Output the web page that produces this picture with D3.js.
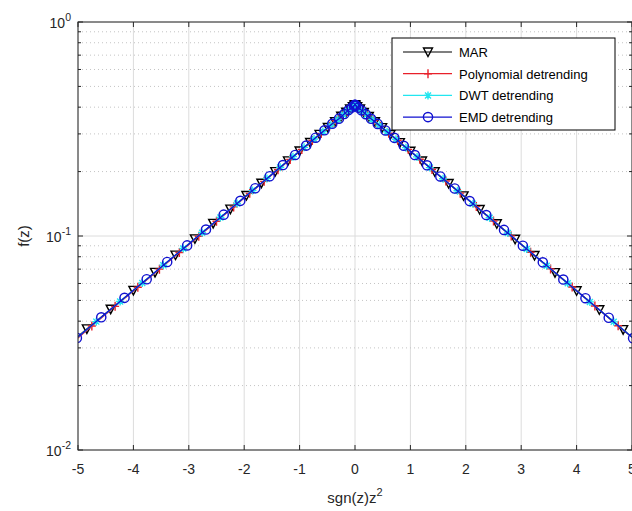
<!DOCTYPE html>
<html><head><meta charset="utf-8">
<script src="https://cdn.jsdelivr.net/npm/d3@7/dist/d3.min.js"></script>
<style>body{margin:0;background:#fff}svg{display:block}</style>
</head><body>
<svg id="c" width="632" height="511"></svg>
<script>
const xTicks = [-5,-4,-3,-2,-1,0,1,2,3,4,5];
const yTickExps = [-2,-1,0];
const seriesNames = ["MAR","Polynomial detrending","DWT detrending","EMD detrending"];
const seriesColors = ["#000000","#e8202a","#22e6f0","#1010d0"];

const marX = [-5.29,-4.84,-4.41,-4.00,-3.61,-3.24,-2.89,-2.56,-2.25,-1.96,-1.69,-1.44,-1.21,-1.00,-0.81,-0.64,-0.49,-0.36,-0.25,-0.16,-0.09,-0.04,-0.01,0,
  0.01,0.04,0.09,0.16,0.25,0.36,0.49,0.64,0.81,1.00,1.21,1.44,1.69,1.96,2.25,2.56,2.89,3.24,3.61,4.00,4.41,4.84,5.29];
const marY = [0.0293,0.0368,0.0455,0.0557,0.0676,0.0814,0.0970,0.1145,0.1335,0.1545,0.1765,0.2000,0.2245,0.2495,0.2735,0.2985,0.3215,0.3425,0.3625,0.3785,0.3925,0.4025,0.4085,0.4110,
  0.4080,0.4020,0.3920,0.3780,0.3620,0.3420,0.3210,0.2980,0.2730,0.2490,0.2240,0.1995,0.1760,0.1540,0.1330,0.1140,0.0966,0.0811,0.0674,0.0555,0.0452,0.0365,0.0291];

const polyX = [-5.20,-4.75,-4.33,-3.92,-3.53,-3.17,-2.82,-2.50,-2.19,-1.90,-1.64,-1.39,-1.17,-0.96,-0.77,-0.61,-0.46,-0.34,-0.23,-0.14,-0.08,-0.03,-0.01,
  0.01,0.03,0.08,0.14,0.23,0.34,0.46,0.61,0.77,0.96,1.17,1.39,1.64,1.90,2.19,2.50,2.82,3.17,3.53,3.92,4.33,4.75,5.20];
const polyY = [0.0302,0.0380,0.0469,0.0576,0.0700,0.0838,0.0998,0.1172,0.1368,0.1582,0.1800,0.2040,0.2280,0.2535,0.2795,0.3015,0.3255,0.3455,0.3645,0.3815,0.3935,0.4035,0.4075,
  0.4080,0.4040,0.3940,0.3820,0.3650,0.3460,0.3260,0.3020,0.2800,0.2540,0.2284,0.2045,0.1806,0.1586,0.1372,0.1175,0.1001,0.0840,0.0702,0.0578,0.0471,0.0381,0.0305];

const dwtX = [-5.11,-4.67,-4.24,-3.84,-3.46,-3.10,-2.76,-2.43,-2.13,-1.85,-1.59,-1.35,-1.12,-0.92,-0.74,-0.58,-0.44,-0.31,-0.21,-0.13,-0.068,-0.026,-0.004,
  0.004,0.026,0.068,0.13,0.21,0.31,0.44,0.58,0.74,0.92,1.12,1.35,1.59,1.85,2.13,2.43,2.76,3.10,3.46,3.84,4.24,4.67,5.11];
const dwtY = [0.0320,0.0398,0.0494,0.0603,0.0730,0.0874,0.1036,0.1220,0.1418,0.1630,0.1858,0.2095,0.2348,0.2595,0.2840,0.3075,0.3295,0.3505,0.3695,0.3845,0.3965,0.4055,0.4095,
  0.4090,0.4050,0.3960,0.3840,0.3690,0.3500,0.3290,0.3068,0.2832,0.2588,0.2342,0.2088,0.1852,0.1626,0.1413,0.1217,0.1032,0.0870,0.0727,0.0601,0.0492,0.0397,0.0319];

const emdX = [-5.02,-4.58,-4.16,-3.76,-3.39,-3.03,-2.69,-2.37,-2.07,-1.80,-1.54,-1.30,-1.08,-0.88,-0.71,-0.55,-0.41,-0.29,-0.194,-0.116,-0.058,-0.02,-0.002,
  0.002,0.02,0.058,0.116,0.194,0.29,0.41,0.55,0.71,0.88,1.08,1.30,1.54,1.80,2.07,2.37,2.69,3.03,3.39,3.76,4.16,4.58,5.02];
const emdY = [0.0334,0.0417,0.0514,0.0628,0.0756,0.0904,0.1072,0.1258,0.1460,0.1672,0.1902,0.2145,0.2392,0.2645,0.2880,0.3118,0.3345,0.3535,0.3715,0.3875,0.3985,0.4065,0.4100,
  0.4100,0.4060,0.3980,0.3870,0.3710,0.3530,0.3340,0.3114,0.2875,0.2640,0.2389,0.2140,0.1898,0.1667,0.1456,0.1253,0.1068,0.0901,0.0753,0.0626,0.0512,0.0415,0.0333];

const seriesX = [marX, polyX, dwtX, emdX];
const seriesY = [marY, polyY, dwtY, emdY];

const svg = d3.select("#c");
const L = 78, T = 22, R = 632, B = 450;
const x = d3.scaleLinear().domain([-5,5]).range([L,R]);
const y = d3.scaleLog().domain([0.01,1]).range([B,T]);
const axisColor = "#262626";
const font = "'Liberation Sans', Arial, sans-serif";

// grid
const g = svg.append("g");
xTicks.forEach(v=>{
  g.append("line").attr("x1",x(v)).attr("x2",x(v)).attr("y1",T).attr("y2",B)
   .attr("stroke","#dcdcdc").attr("stroke-width",1);
});
yTickExps.forEach(e=>{
  const v = Math.pow(10,e);
  g.append("line").attr("x1",L).attr("x2",R).attr("y1",y(v)).attr("y2",y(v))
   .attr("stroke","#dcdcdc").attr("stroke-width",1);
  if (e < 0) for (let m=2;m<=9;m++){
    const mv = m*v;
    g.append("line").attr("x1",L).attr("x2",R).attr("y1",y(mv)).attr("y2",y(mv))
     .attr("stroke","#c4c4c4").attr("stroke-width",1).attr("stroke-dasharray","1,3");
  }
});

// series
const clipId = "clipP";
svg.append("clipPath").attr("id",clipId).append("rect").attr("x",L).attr("y",T).attr("width",R-L).attr("height",B-T);
const plot = svg.append("g").attr("clip-path",`url(#${clipId})`);
const line = d3.line().x(d=>x(d[0])).y(d=>y(d[1]));
const sw = 1.4;

function marker(sel, i, cx, cy, color){
  if (i===0){
    sel.append("path").attr("d",`M${cx-4.5},${cy-4}L${cx+4.5},${cy-4}L${cx},${cy+4.5}Z`)
      .attr("fill","none").attr("stroke",color).attr("stroke-width",sw);
  } else if (i===1){
    sel.append("path").attr("d",`M${cx-4},${cy}L${cx+4},${cy}M${cx},${cy-4.5}L${cx},${cy+4.5}`)
      .attr("stroke",color).attr("stroke-width",sw);
  } else if (i===2){
    sel.append("path").attr("d",`M${cx-4},${cy}L${cx+4},${cy}M${cx},${cy-4}L${cx},${cy+4}M${cx-3},${cy-3}L${cx+3},${cy+3}M${cx-3},${cy+3}L${cx+3},${cy-3}`)
      .attr("stroke",color).attr("stroke-width",sw);
  } else {
    sel.append("circle").attr("cx",cx).attr("cy",cy).attr("r",4.6)
      .attr("fill","none").attr("stroke",color).attr("stroke-width",sw);
  }
}

seriesX.forEach((xs,i)=>{
  const pts = xs.map((v,k)=>[v, seriesY[i][k]]);
  const sg = plot.append("g");
  sg.append("path").attr("d",line(pts)).attr("fill","none").attr("stroke",seriesColors[i]).attr("stroke-width",1.3);
  pts.forEach(p=>marker(sg,i,x(p[0]),y(p[1]),seriesColors[i]));
});

// axes box
svg.append("rect").attr("x",L).attr("y",T).attr("width",R-L).attr("height",B-T)
  .attr("fill","none").attr("stroke",axisColor).attr("stroke-width",1);

// x ticks
xTicks.forEach(v=>{
  svg.append("line").attr("x1",x(v)).attr("x2",x(v)).attr("y1",B).attr("y2",B-5).attr("stroke",axisColor);
  svg.append("line").attr("x1",x(v)).attr("x2",x(v)).attr("y1",T).attr("y2",T+5).attr("stroke",axisColor);
  svg.append("text").attr("x",x(v)).attr("y",B+24).attr("text-anchor","middle")
    .attr("font-family",font).attr("font-size",14).attr("fill",axisColor).text(v);
});
// y ticks
yTickExps.forEach(e=>{
  const v = Math.pow(10,e);
  svg.append("line").attr("x1",L).attr("x2",L+5).attr("y1",y(v)).attr("y2",y(v)).attr("stroke",axisColor);
  svg.append("line").attr("x1",R-5).attr("x2",R).attr("y1",y(v)).attr("y2",y(v)).attr("stroke",axisColor);
  const t = svg.append("text").attr("x",L-7).attr("y",y(v)+6).attr("text-anchor","end")
    .attr("font-family",font).attr("font-size",14).attr("fill",axisColor);
  t.append("tspan").text("10");
  t.append("tspan").attr("dy",-7).attr("font-size",10.5).text(e);
  if (e<0) for (let m=2;m<=9;m++){
    svg.append("line").attr("x1",L).attr("x2",L+3).attr("y1",y(m*v)).attr("y2",y(m*v)).attr("stroke",axisColor);
    svg.append("line").attr("x1",R-3).attr("x2",R).attr("y1",y(m*v)).attr("y2",y(m*v)).attr("stroke",axisColor);
  }
});

// axis labels
const xl = svg.append("text").attr("x",x(0)).attr("y",503).attr("text-anchor","middle")
  .attr("font-family",font).attr("font-size",15).attr("fill",axisColor);
xl.append("tspan").text("sgn(z)z");
xl.append("tspan").attr("dy",-7).attr("font-size",11).text("2");
svg.append("text").attr("transform",`translate(29,${(T+B)/2}) rotate(-90)`).attr("text-anchor","middle")
  .attr("font-family",font).attr("font-size",15).attr("fill",axisColor).text("f(z)");

// legend
const lg = svg.append("g");
const lx = 392, ly = 38, lw = 223, lh = 92;
lg.append("rect").attr("x",lx).attr("y",ly).attr("width",lw).attr("height",lh)
  .attr("fill","#fff").attr("stroke","#000").attr("stroke-width",1);
seriesNames.forEach((n,i)=>{
  const yy = ly + 14 + i*21.7;
  lg.append("line").attr("x1",lx+11).attr("x2",lx+60).attr("y1",yy).attr("y2",yy)
    .attr("stroke",seriesColors[i]).attr("stroke-width",1.2);
  marker(lg,i,lx+36,yy,seriesColors[i]);
  lg.append("text").attr("x",lx+67).attr("y",yy+5).attr("font-family",font).attr("font-size",13)
    .attr("fill","#000").text(n);
});
</script>
</body></html>
